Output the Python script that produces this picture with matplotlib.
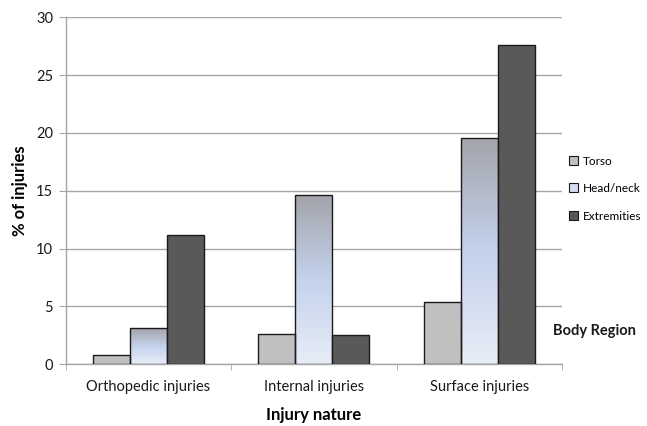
"""Grouped bar chart: share of injuries by nature and body region."""

import numpy as np
import matplotlib.pyplot as plt
from matplotlib.colors import LinearSegmentedColormap
from matplotlib.patches import Rectangle

plt.rcParams["font.family"] = ["Lato", "DejaVu Sans"]

categories = ["Orthopedic injuries", "Internal injuries", "Surface injuries"]
regions = ["Torso", "Head/neck", "Extremities"]
torso = [0.8, 2.6, 5.4]
head_neck = [3.1, 14.6, 19.6]
extremities = [11.2, 2.5, 27.6]

GRID = "#a6a6a6"
TORSO_C = "#c0c0c0"
EXTREM_C = "#595959"
head_cmap = LinearSegmentedColormap.from_list(
    "headneck", ["#e8edf7", "#c4d2ec", "#a3a4aa"]
)

fig = plt.figure(figsize=(6.47, 4.26), dpi=100)
ax = fig.add_axes([0.1014, 0.1448, 0.7672, 0.8146])

x = np.arange(len(categories))
w = 0.223
series = [torso, head_neck, extremities]
colors = [TORSO_C, "none", EXTREM_C]

grad = np.linspace(0, 1, 256).reshape(-1, 1)
for i, (vals, col) in enumerate(zip(series, colors)):
    bars = ax.bar(x + (i - 1) * w, vals, w, color=col, edgecolor="#1a1a1a",
                  linewidth=1.0, zorder=3)
    if i == 1:
        for b in bars:
            x0, y0 = b.get_x(), b.get_y()
            im = ax.imshow(grad, cmap=head_cmap, origin="lower", aspect="auto",
                           extent=(x0, x0 + b.get_width(), y0, y0 + b.get_height()),
                           zorder=2.9)
            im.set_clip_path(b)

ax.set_xlim(-0.5, 2.5)
ax.set_ylim(0, 30)
ax.set_yticks(range(0, 31, 5))
ax.yaxis.grid(True, color=GRID, linewidth=1.0, zorder=0)
ax.set_axisbelow(True)

ax.set_xticks(x)
ax.set_xticklabels(categories, fontsize=10.5, color="#1a1a1a")
ax.set_xticks([-0.5, 0.5, 1.5, 2.5], minor=True)
ax.tick_params(axis="x", which="major", length=0, pad=11)
ax.tick_params(axis="x", which="minor", length=4, color=GRID, direction="out")
ax.tick_params(axis="y", length=5, color=GRID, labelsize=10.5,
               labelcolor="#1a1a1a", pad=4)

for side in ("top", "right"):
    ax.spines[side].set_visible(False)
for side in ("left", "bottom"):
    ax.spines[side].set_color(GRID)
    ax.spines[side].set_linewidth(1.0)

ax.set_ylabel("% of injuries", fontsize=12, fontweight="bold", labelpad=6)
ax.set_xlabel("Injury nature", fontsize=12, fontweight="bold", labelpad=10)

handles = [
    Rectangle((0, 0), 1, 1, facecolor=TORSO_C, edgecolor="#1a1a1a", linewidth=0.8),
    Rectangle((0, 0), 1, 1, facecolor="#d4ddf0", edgecolor="#1a1a1a", linewidth=0.8),
    Rectangle((0, 0), 1, 1, facecolor=EXTREM_C, edgecolor="#1a1a1a", linewidth=0.8),
]
fig.legend(handles, regions, loc="upper left", bbox_to_anchor=(0.872, 0.646),
           frameon=False, fontsize=8.5, handlelength=0.8, handleheight=0.8,
           handletextpad=0.4, labelspacing=1.4, borderaxespad=0)

fig.text(0.855, 0.222, "Body Region", fontsize=10.5, fontweight="bold",
         color="#1a1a1a", va="center", ha="left")

fig.savefig("out.png", dpi=100, facecolor="white")
